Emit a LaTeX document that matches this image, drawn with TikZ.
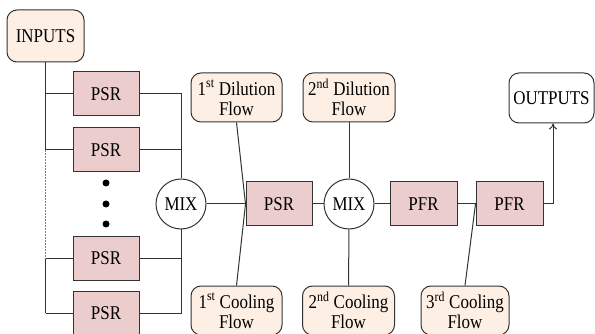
\documentclass[tikz,border=0pt]{standalone}
\usepackage{fontspec}
\setmainfont{Liberation Serif}[FakeStretch=0.87]
\usetikzlibrary{arrows.meta}
\definecolor{peach}{HTML}{FDEFE4}
\definecolor{rose}{HTML}{ECCDCD}
\definecolor{edge}{HTML}{333333}
\tikzset{
  every node/.style={font=\fontsize{19.5}{20}\selectfont, inner sep=0pt},
  flowbox/.style={draw=edge, line width=1pt, fill=peach, rounded corners=10pt, align=center, minimum width=91pt, minimum height=49pt},
  reactor/.style={draw=edge, line width=1pt, fill=rose, minimum width=66pt, minimum height=44pt},
  mixer/.style={draw=edge, line width=1pt, fill=white, circle, minimum size=50pt},
  wire/.style={draw=edge, line width=1pt},
  dotnode/.style={fill=black, circle, minimum size=7pt},
}
\begin{document}
\begin{tikzpicture}[x=1pt, y=-1pt]
\useasboundingbox (0,0) rectangle (595,334);
% nodes
\node[flowbox, minimum width=77pt, minimum height=52pt] (inputs) at (45.5,36) {INPUTS};
\node[reactor] (psr1) at (106,94) {PSR};
\node[reactor] (psr2) at (106,150) {PSR};
\node[reactor] (psr3) at (106,258.5) {PSR};
\node[reactor] (psr4) at (106,313) {PSR};
\node[dotnode] (d1) at (106,183) {};
\node[dotnode] (d2) at (106,204) {};
\node[dotnode] (d3) at (106,224) {};
\node[mixer] (mix1) at (181,204) {MIX};
\node[reactor] (psrm) at (279,204) {PSR};
\node[flowbox] (dil1) at (236.5,97.5) {1\textsuperscript{st} Dilution\\Flow};
\node[flowbox] (cool1) at (236.5,310.5) {1\textsuperscript{st} Cooling\\Flow};
\node[mixer] (mix2) at (349,204) {MIX};
\node[flowbox, minimum width=92pt] (dil2) at (349,97.5) {2\textsuperscript{nd} Dilution\\Flow};
\node[flowbox, minimum width=92pt] (cool2) at (348.5,310.5) {2\textsuperscript{nd} Cooling\\Flow};
\node[reactor, minimum width=67pt] (pfr1) at (423.5,204) {PFR};
\node[reactor, minimum width=67pt] (pfr2) at (509.5,204) {PFR};
\node[flowbox, minimum width=88pt] (cool3) at (465,310.5) {3\textsuperscript{rd} Cooling\\Flow};
\node[flowbox, fill=white, minimum width=85pt, minimum height=50pt] (outputs) at (551.5,98) {OUTPUTS};
% branch points
\coordinate (b1) at (inputs.south |- psr1.west);
\coordinate (b2) at (inputs.south |- psr2.west);
\coordinate (b3) at (inputs.south |- psr3.west);
\coordinate (b4) at (inputs.south |- psr4.west);
% connectors
\draw[wire] (inputs.south) -- (b2);
\draw[draw=gray, line width=0.5pt, dash pattern=on 2pt off 1pt] (b2) -- (b3);
\draw[wire] (b3) -- (b4);
\draw[wire] (b1) -- (psr1.west);
\draw[wire] (b2) -- (psr2.west);
\draw[wire] (b3) -- (psr3.west);
\draw[wire] (b4) -- (psr4.west);
\draw[wire] (psr1.east) -| (mix1.north);
\draw[wire] (psr2.east) -| (mix1.north);
\draw[wire] (psr3.east) -| (mix1.south);
\draw[wire] (psr4.east) -| (mix1.south);
\draw[wire] (mix1.east) -- (psrm.west);
\draw[wire] (dil1.south) -- (psrm.west);
\draw[wire] (cool1.north) -- (psrm.west);
\draw[wire] (psrm.east) -- (mix2.west);
\draw[wire] (dil2.south) -- (mix2.north);
\draw[wire] (cool2.north) -- (mix2.south);
\draw[wire] (mix2.east) -- (pfr1.west);
\draw[wire] (pfr1.east) -- (pfr2.west);
\draw[wire] (cool3.north) -- (pfr2.west);
\draw[wire, -{To[length=6pt,width=8pt]}] (pfr2.east) -| (553,0 |- outputs.south);
\end{tikzpicture}
\end{document}
